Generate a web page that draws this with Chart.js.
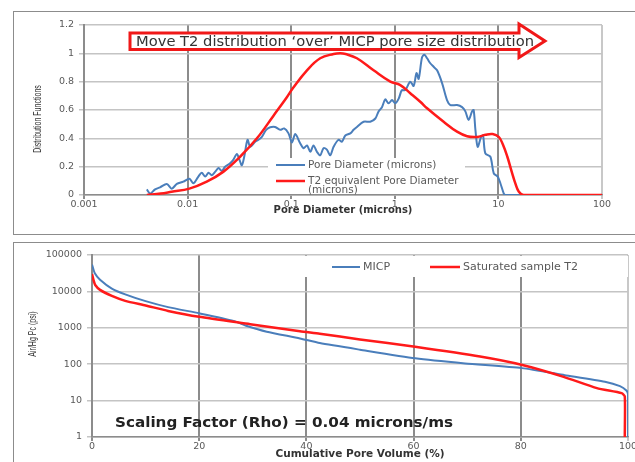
<!DOCTYPE html>
<html>
<head>
<meta charset="utf-8">
<script src="https://cdn.jsdelivr.net/npm/chart.js@4"></script>
<style>
  html, body { margin: 0; padding: 0; background: #fff; overflow: hidden; width: 635px; height: 462px; }
  .pannello { position: absolute; border: 1px solid #8c8c8c; box-sizing: border-box; }
  canvas { position: absolute; }
</style>
</head>
<body>
<div class="pannello" style="left:13px;top:11px;width:640px;height:224px;"></div>
<div class="pannello" style="left:13px;top:242px;width:640px;height:240px;"></div>
<canvas id="grafDistr" width="640" height="223" style="left:13px;top:11px;"></canvas>
<canvas id="grafPc" width="640" height="220" style="left:13px;top:242px;"></canvas>
<script>
// distribuzione dei pori (grafico in alto)
const poreDiam = [0.00404, 0.00435, 0.00485, 0.00542, 0.0063, 0.00703, 0.00787, 0.0091, 0.0104, 0.0114,
    0.0127, 0.0137, 0.0148, 0.0159, 0.0171, 0.0185, 0.0199, 0.0214, 0.0230, 0.0254,
    0.0277, 0.0299, 0.0316, 0.0334, 0.0352, 0.0379, 0.0402, 0.0449, 0.0483, 0.0521,
    0.0573, 0.0627, 0.070, 0.0783, 0.0855, 0.0942, 0.1017, 0.1094, 0.122, 0.1315,
    0.142, 0.153, 0.164, 0.177, 0.1905, 0.205, 0.221, 0.238, 0.2565, 0.286,
    0.309, 0.333, 0.372, 0.400, 0.431, 0.500, 0.579, 0.649, 0.697, 0.752,
    0.809, 0.871, 0.940, 1.01, 1.09, 1.17, 1.26, 1.41, 1.52, 1.62,
    1.70, 1.83, 1.93, 2.05, 2.20, 2.37, 2.56, 2.86, 3.19, 3.44,
    3.99, 4.46, 4.80, 5.16, 5.57, 5.77, 6.00, 6.31, 6.81, 7.11,
    7.48, 8.37, 9.02, 9.84, 10.45, 11.25, 11.7, 100];
const poreDist = [0.04, 0.01, 0.04, 0.054, 0.078, 0.045, 0.078, 0.094, 0.115, 0.083,
    0.13, 0.157, 0.13, 0.157, 0.14, 0.165, 0.19, 0.17, 0.20, 0.22,
    0.25, 0.29, 0.25, 0.21, 0.27, 0.39, 0.34, 0.376, 0.39, 0.41,
    0.46, 0.478, 0.48, 0.46, 0.47, 0.435, 0.37, 0.43, 0.365, 0.33,
    0.35, 0.305, 0.35, 0.305, 0.28, 0.33, 0.32, 0.28, 0.34, 0.39,
    0.376, 0.42, 0.435, 0.46, 0.48, 0.517, 0.517, 0.54, 0.59, 0.62,
    0.675, 0.647, 0.67, 0.647, 0.68, 0.74, 0.74, 0.80, 0.77, 0.86,
    0.82, 0.97, 0.99, 0.965, 0.93, 0.905, 0.88, 0.79, 0.67, 0.635,
    0.635, 0.62, 0.59, 0.53, 0.59, 0.60, 0.46, 0.34, 0.41, 0.42,
    0.294, 0.27, 0.153, 0.13, 0.083, 0.012, 0, 0];

const t2Diam = [0.00404, 0.0055, 0.0070, 0.0104, 0.0153, 0.0222, 0.0321, 0.0467, 0.0675, 0.0908,
    0.1037, 0.142, 0.1905, 0.2565, 0.297, 0.335, 0.431, 0.624, 0.906, 1.13,
    1.41, 1.76, 2.05, 2.96, 3.99, 4.99, 6.22, 7.5, 8.8, 10.07,
    11.0, 12.2, 13.5, 14.6, 15.7, 17.5, 100];
const t2Dist = [0, 0.01, 0.023, 0.045, 0.094, 0.165, 0.27, 0.40, 0.56, 0.69,
    0.753, 0.88, 0.965, 0.995, 1.0, 0.995, 0.965, 0.88, 0.80, 0.776,
    0.718, 0.658, 0.612, 0.517, 0.447, 0.415, 0.41, 0.425, 0.43, 0.41,
    0.36, 0.27, 0.16, 0.08, 0.025, 0, 0];

const xTickDiam = [0.001, 0.01, 0.1, 1, 10, 100];
const xLabelDiam = ['0.001', '0.01', '0.1', '1', '10', '100'];

// pressione capillare (grafico in basso)
const micpVol = [0, 0.5, 1.5, 3.7, 6.2, 10, 14.2, 20, 26.4, 28.9, 32.6, 38.8, 42.5, 50,
    60.3, 69.6, 80.2, 88.2, 95.7, 98.5, 99.7, 100, 100];
const micpPc = [55000, 32000, 21000, 12000, 8300, 5400, 3700, 2500, 1550, 1120, 780, 510, 380, 250,
    145, 105, 78, 50, 33, 25, 19, 15, 1];

const t2Vol = [0, 0.3, 0.6, 1.5, 3.7, 6.2, 10, 14.2, 20, 29.5, 38.8, 42.5, 50,
    60.3, 72.4, 80.3, 88, 94.2, 98.8, 99.4, 99.4];
const t2Pc = [30000, 20000, 15000, 11000, 7500, 5500, 4100, 2900, 2000, 1260, 800, 690, 480,
    300, 162, 95, 45, 22, 16, 13, 1];

const yTickPc = [1, 10, 100, 1000, 10000, 100000];
const yLabelPc = ['1', '10', '100', '1000', '10000', '100000'];

const xTickVol = [0, 20, 40, 60, 80, 100];

function punti(xs, ys) {
    return xs.map((x, i) => ({ x: x, y: ys[i] }));
}

const grigioTesto = '#595959';
const blu = '#4a7ebb';
const rosso = '#ff1a1a';

Chart.defaults.font.family = '"DejaVu Sans", sans-serif';

// scrive un testo allargandolo fino alla larghezza voluta
function testoLargo(ctx, testo, x, y, larghezza) {
    let w = ctx.measureText(testo).width;
    ctx.save();
    ctx.translate(x, y);
    ctx.scale(larghezza / w, 1);
    ctx.fillText(testo, 0, 0);
    ctx.restore();
}

// legenda disegnata a mano, con fondo bianco sopra la griglia
const legendaBox = {
    id: 'legendaBox',
    afterDatasetsDraw(chart, args, opts) {
        let ctx = chart.ctx;
        ctx.save();
        ctx.fillStyle = '#fff';
        ctx.fillRect(opts.box[0], opts.box[1], opts.box[2], opts.box[3]);
        ctx.font = opts.font;
        ctx.textBaseline = 'middle';
        opts.voci.forEach(v => {
            ctx.strokeStyle = v.colore;
            ctx.lineWidth = v.spessore;
            ctx.beginPath();
            ctx.moveTo(v.x, v.y);
            ctx.lineTo(v.x + v.lung, v.y);
            ctx.stroke();
            ctx.fillStyle = grigioTesto;
            v.testo.forEach((t, i) => ctx.fillText(t, v.x + v.lung + 3, v.y + i * opts.interlinea));
        });
        ctx.restore();
    }
};

// freccia rossa con la scritta
const freccia = {
    id: 'freccia',
    afterDraw(chart, args, o) {
        let ctx = chart.ctx;
        ctx.save();
        ctx.beginPath();
        ctx.moveTo(o.x0, o.y0);
        ctx.lineTo(o.xc, o.y0);
        ctx.lineTo(o.xc, o.yt);
        ctx.lineTo(o.xp, o.ym);
        ctx.lineTo(o.xc, o.yb);
        ctx.lineTo(o.xc, o.y1);
        ctx.lineTo(o.x0, o.y1);
        ctx.closePath();
        ctx.fillStyle = '#fff';
        ctx.fill();
        ctx.strokeStyle = '#f01818';
        ctx.lineWidth = 3;
        ctx.stroke();
        ctx.fillStyle = '#333';
        ctx.font = '13.5px "DejaVu Sans", sans-serif';
        ctx.textBaseline = 'middle';
        testoLargo(ctx, o.testo, o.x0 + 6, o.ym + 1, o.larghezza);
        ctx.restore();
    }
};

// testo libero dentro al grafico
const scritta = {
    id: 'scritta',
    afterDraw(chart, args, o) {
        let ctx = chart.ctx;
        ctx.save();
        ctx.fillStyle = '#222';
        ctx.font = o.font;
        ctx.textBaseline = 'middle';
        testoLargo(ctx, o.testo, o.x, o.y, o.larghezza);
        ctx.restore();
    }
};

// titolo dell'asse y, ruotato e stretto
const titoloY = {
    id: 'titoloY',
    afterDraw(chart, args, o) {
        let ctx = chart.ctx;
        ctx.save();
        ctx.translate(o.x, o.y);
        ctx.rotate(-Math.PI / 2);
        ctx.scale(0.64, 1);
        ctx.font = '11px "Liberation Sans", sans-serif';
        ctx.fillStyle = '#333';
        ctx.textAlign = 'center';
        ctx.textBaseline = 'middle';
        ctx.fillText(o.testo, 0, 0);
        ctx.restore();
    }
};

new Chart(document.getElementById('grafDistr'), {
    type: 'scatter',
    data: {
        datasets: [{
            label: 'Pore Diameter (microns)',
            data: punti(poreDiam, poreDist),
            showLine: true,
            borderColor: blu,
            borderWidth: 2,
            pointRadius: 0,
            tension: 0.3,
            order: 1
        }, {
            label: 'T2 equivalent Pore Diameter (microns)',
            data: punti(t2Diam, t2Dist),
            showLine: true,
            borderColor: rosso,
            borderWidth: 2.5,
            pointRadius: 0,
            tension: 0.4,
            order: 0
        }]
    },
    options: {
        responsive: false,
        animation: false,
        layout: { padding: { left: 0, top: 14, right: 51, bottom: 0 } },
        plugins: {
            legend: { display: false },
            tooltip: { enabled: false },
            legendaBox: {
                box: [255, 147, 197, 36],
                font: '10.5px "DejaVu Sans", sans-serif',
                interlinea: 9,
                voci: [
                    { colore: blu, spessore: 2, x: 263, y: 154, lung: 29, testo: ['Pore Diameter (microns)'] },
                    { colore: rosso, spessore: 2.5, x: 263, y: 170, lung: 29, testo: ['T2 equivalent Pore Diameter', '(microns)'] }
                ]
            },
            freccia: {
                x0: 117, y0: 22, y1: 38.5, xc: 506, yt: 13, yb: 46.5, xp: 532, ym: 30,
                larghezza: 398,
                testo: 'Move T2 distribution \u2018over\u2019 MICP pore size distribution'
            },
            titoloY: { testo: 'Distribution Functions', x: 25, y: 108 }
        },
        scales: {
            x: {
                type: 'logarithmic',
                min: 0.001,
                max: 100,
                afterBuildTicks: s => { s.ticks = xTickDiam.map(v => ({ value: v })); },
                afterFit: s => { s.height = 39; },
                ticks: {
                    callback: (v, i) => xLabelDiam[i],
                    font: { size: 9.5 },
                    color: grigioTesto,
                    padding: 0,
                    maxRotation: 0,
                    autoSkip: false
                },
                grid: {
                    color: c => (c.tick && c.tick.value === 100) ? '#c8c8c8' : '#8c8c8c',
                    lineWidth: 2,
                    tickLength: 4
                },
                border: { color: '#8c8c8c', width: 1.5 },
                title: {
                    display: true,
                    text: 'Pore Diameter (microns)',
                    font: { size: 10, weight: 'bold' },
                    color: '#333',
                    padding: { top: 0, bottom: 18 }
                }
            },
            y: {
                min: 0,
                max: 1.2,
                afterFit: s => { s.width = 71; },
                ticks: {
                    stepSize: 0.2,
                    callback: v => Number(v.toFixed(1)).toString(),
                    font: { size: 9.5 },
                    color: grigioTesto,
                    padding: 5
                },
                grid: { color: '#c4c4c4', lineWidth: 1.5, tickLength: 5 },
                border: { color: '#8c8c8c', width: 2 }
            }
        }
    },
    plugins: [legendaBox, freccia, titoloY]
});

new Chart(document.getElementById('grafPc'), {
    type: 'scatter',
    data: {
        datasets: [{
            label: 'MICP',
            data: punti(micpVol, micpPc),
            showLine: true,
            borderColor: blu,
            borderWidth: 2,
            pointRadius: 0,
            tension: 0.2,
            order: 1
        }, {
            label: 'Saturated sample T2',
            data: punti(t2Vol, t2Pc),
            showLine: true,
            borderColor: rosso,
            borderWidth: 2.5,
            pointRadius: 0,
            tension: 0.2,
            order: 0
        }]
    },
    options: {
        responsive: false,
        animation: false,
        layout: { padding: { left: 0, top: 13, right: 25, bottom: 0 } },
        plugins: {
            legend: { display: false },
            tooltip: { enabled: false },
            legendaBox: {
                box: [250, 14, 365, 21],
                font: '11px "DejaVu Sans", sans-serif',
                interlinea: 10,
                voci: [
                    { colore: blu, spessore: 2, x: 319, y: 25, lung: 28, testo: ['MICP'] },
                    { colore: rosso, spessore: 2.5, x: 417, y: 25, lung: 30, testo: ['Saturated sample T2'] }
                ]
            },
            scritta: {
                testo: 'Scaling Factor (Rho) = 0.04 microns/ms',
                font: 'bold 14.5px "DejaVu Sans", sans-serif',
                larghezza: 338,
                x: 102,
                y: 181
            },
            titoloY: { testo: 'Air/Hg Pc (psi)', x: 20, y: 92 }
        },
        scales: {
            x: {
                min: 0,
                max: 100,
                afterBuildTicks: s => { s.ticks = xTickVol.map(v => ({ value: v })); },
                afterFit: s => { s.height = 25; },
                ticks: {
                    font: { size: 9.5 },
                    color: grigioTesto,
                    padding: 0,
                    maxRotation: 0,
                    autoSkip: false
                },
                grid: {
                    color: c => (c.tick && c.tick.value === 100) ? '#c8c8c8' : '#8c8c8c',
                    lineWidth: 2,
                    tickLength: 4
                },
                border: { color: '#8c8c8c', width: 1.5 },
                title: {
                    display: true,
                    text: 'Cumulative Pore Volume (%)',
                    font: { size: 10.5, weight: 'bold' },
                    color: '#333',
                    padding: { top: 0, bottom: 1 }
                }
            },
            y: {
                type: 'logarithmic',
                min: 1,
                max: 100000,
                afterBuildTicks: s => { s.ticks = yTickPc.map(v => ({ value: v })); },
                afterFit: s => { s.width = 79; },
                ticks: {
                    callback: (v, i) => yLabelPc[i],
                    font: { size: 9.5 },
                    color: grigioTesto,
                    padding: 5,
                    autoSkip: false
                },
                grid: { color: '#c4c4c4', lineWidth: 1.5, tickLength: 5 },
                border: { color: '#8c8c8c', width: 2 }
            }
        }
    },
    plugins: [legendaBox, scritta, titoloY]
});
</script>
</body>
</html>
